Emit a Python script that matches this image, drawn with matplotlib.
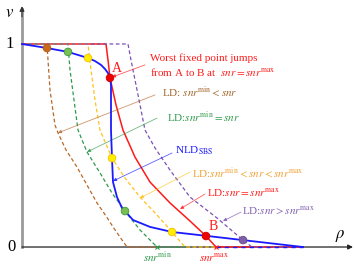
#!/usr/bin/env python3
"""Fixed points of LD and NLD_SBS density evolution curves (v versus rho)."""

import matplotlib

matplotlib.use("Agg")

import matplotlib.pyplot as plt

plt.rcParams["font.family"] = ["Liberation Serif", "DejaVu Serif"]
plt.rcParams["mathtext.fontset"] = "stix"

# curve samples: rho (x) and v (y)
NLD_X = [0, 0.25, 0.46, 0.66, 0.73, 0.79, 0.83, 0.86, 0.88, 0.89, 0.89, 0.90,
         0.91, 0.95, 1.00, 1.03, 1.11, 1.28, 1.50, 1.86, 2.21, 2.81]
NLD_Y = [1, 0.980, 0.961, 0.931, 0.916, 0.897, 0.877, 0.857, 0.833, 0.798,
         0.576, 0.438, 0.320, 0.246, 0.192, 0.177, 0.133, 0.099, 0.074,
         0.054, 0.034, 0]
NLD_AXIS_X = [1.94, 2.81]

LD_MAX_X = [0, 0.84, 0.86, 0.88, 0.94, 1.01, 1.13, 1.28, 1.48, 1.68, 1.84, 1.94, 2.81]
LD_MAX_Y = [1, 1, 0.921, 0.833, 0.700, 0.576, 0.443, 0.320, 0.217, 0.128, 0.054, 0, 0]

LD_BELOW_X = [0, 0.25, 0.26, 0.28, 0.33, 0.36, 0.44, 0.55, 0.65, 0.75, 0.84, 0.91, 0.98, 1.05, 1.35]
LD_BELOW_Y = [1, 1, 0.921, 0.773, 0.601, 0.562, 0.478, 0.394, 0.305, 0.217,
              0.153, 0.099, 0.049, 0, 0]

LD_MIN_X = [0, 0.46, 0.48, 0.52, 0.56, 0.65, 0.78, 0.90, 1.03, 1.18, 1.35, 1.63]
LD_MIN_Y = [1, 1, 0.872, 0.724, 0.576, 0.468, 0.365, 0.266, 0.177, 0.084, 0, 0]

LD_MID_X = [0, 0.66, 0.69, 0.73, 0.78, 0.90, 1.03, 1.18, 1.35, 1.50, 1.63, 1.94]
LD_MID_Y = [1, 1, 0.872, 0.724, 0.576, 0.438, 0.340, 0.246, 0.158, 0.074, 0, 0]

LD_ABOVE_X = [0, 1.06, 1.09, 1.13, 1.18, 1.23, 1.33, 1.48, 1.68, 1.95, 2.21, 2.30, 2.81]
LD_ABOVE_Y = [1, 1, 0.921, 0.823, 0.700, 0.576, 0.488, 0.379, 0.246, 0.143, 0.034, 0, 0]

# fixed points
DOT_X = [0.25, 0.46, 1.03, 0.66, 0.90, 1.50, 0.88, 1.84, 2.21]
DOT_Y = [0.980, 0.961, 0.177, 0.931, 0.438, 0.074, 0.833, 0.054, 0.034]
DOT_FACE = ["#cc6a1c", "#77c054", "#77c054", "#ffee00", "#ffee00", "#ffee00",
            "#ee0000", "#ee0000", "#7e5ea5"]
DOT_EDGE = ["#b05a10", "#3f9a3a", "#3f9a3a", "#f5c000", "#f5c000", "#f5c000",
            "#cc0000", "#cc0000", "#6a4a90"]

SNR_MIN_X = 1.35
SNR_MAX_X = 1.94

BLUE = "#1a1aff"
RED = "#ff1a1a"
BROWN = "#b8692a"
GREEN = "#2e9a4a"
YELLOW = "#ffc21a"
PURPLE = "#7b52b8"
FS = 8


def pointer(ax, text_xy, end_xy, color):
    ax.annotate(
        "", xy=end_xy, xytext=text_xy,
        arrowprops=dict(arrowstyle="-|>", lw=0.6, color=color, alpha=0.7,
                        mutation_scale=5, shrinkA=0, shrinkB=0),
    )


def main() -> None:
    fig = plt.figure(figsize=(3.54, 2.64), dpi=100)
    ax = fig.add_axes([0, 0, 1, 1])
    ax.set_xlim(-0.22, 3.32)
    ax.set_ylim(-0.0837, 1.2167)
    ax.axis("off")

    # axes
    ax.plot([0, 0], [0, 1.17], color="#9a9a9a", lw=2.0, zorder=1)
    ax.annotate("", xy=(0, 1.20), xytext=(0, 1.12),
                arrowprops=dict(arrowstyle="-|>", lw=0.8, color="#333333", mutation_scale=7))
    ax.annotate("", xy=(3.31, 0), xytext=(0, 0),
                arrowprops=dict(arrowstyle="-|>", lw=0.9, color="#222222", mutation_scale=7,
                                shrinkA=0, shrinkB=0), zorder=1)

    ax.plot(LD_MAX_X, LD_MAX_Y, color=RED, lw=1.1, zorder=3)
    ax.plot(NLD_X, NLD_Y, color=BLUE, lw=1.3, zorder=4)
    ax.plot(NLD_AXIS_X, [0, 0], color=BLUE, lw=1.0, ls=(0, (3, 3)), zorder=4)
    ax.plot(LD_BELOW_X, LD_BELOW_Y, color=BROWN, lw=0.9, ls=(0, (3, 2)), zorder=3)
    ax.plot(LD_MIN_X, LD_MIN_Y, color=GREEN, lw=0.9, ls=(0, (3, 2)), zorder=3)
    ax.plot(LD_MID_X, LD_MID_Y, color=YELLOW, lw=0.9, ls=(0, (3, 2)), zorder=3)
    ax.plot(LD_ABOVE_X, LD_ABOVE_Y, color=PURPLE, lw=0.9, ls=(0, (3, 2)), zorder=3)

    ax.scatter(DOT_X, DOT_Y, s=30, c=DOT_FACE, edgecolors=DOT_EDGE, linewidths=0.6, zorder=6)

    ax.plot([SNR_MIN_X], [0], marker="x", color=GREEN, ms=3, mew=0.8, zorder=5)
    ax.plot([SNR_MAX_X], [0], marker="x", color=RED, ms=3, mew=0.8, zorder=5)

    # axis labels
    ax.text(-0.12, 1.153, r"$v$", fontsize=12, ha="center", va="center")
    ax.text(-0.12, 1.0, "1", fontsize=12, ha="center", va="center")
    ax.text(-0.10, 0.0, "0", fontsize=12, ha="center", va="center")
    ax.text(3.18, 0.054, r"$\rho$", fontsize=12, ha="center", va="center")
    ax.text(SNR_MIN_X, -0.052, r"$snr^{\mathrm{min}}$", fontsize=FS, color=GREEN,
            ha="center", va="center")
    ax.text(SNR_MAX_X - 0.02, -0.052, r"$snr^{\mathrm{max}}$", fontsize=FS, color=RED,
            ha="center", va="center")
    ax.text(0.95, 0.877, "A", fontsize=10, color=RED, ha="center", va="center")
    ax.text(1.91, 0.099, "B", fontsize=10, color=RED, ha="center", va="center")

    # callouts
    ax.text(1.28, 0.931, "Worst fixed point jumps", fontsize=FS, color=RED, va="center")
    ax.text(1.28, 0.862, r"from A to B at  $snr = snr^{\mathrm{max}}$", fontsize=FS,
            color=RED, va="center")
    pointer(ax, (1.23, 0.897), (0.90, 0.837), RED)

    ax.text(1.40, 0.764, r"LD: $snr^{\mathrm{min}} < snr$", fontsize=FS, color="#a0652a",
            va="center")
    pointer(ax, (1.33, 0.749), (0.36, 0.562), BROWN)

    ax.text(1.45, 0.640, r"LD:$snr^{\mathrm{min}} = snr$", fontsize=FS, color=GREEN,
            va="center")
    pointer(ax, (1.35, 0.635), (0.65, 0.468), GREEN)

    ax.text(1.53, 0.473, r"NLD$_{\mathrm{SBS}}$", fontsize=FS, color=BLUE, va="center")
    pointer(ax, (1.50, 0.463), (0.91, 0.325), BLUE)

    ax.text(1.70, 0.365, r"LD:$snr^{\mathrm{min}}< snr < snr^{\mathrm{max}}$", fontsize=FS,
            color="#f0a030", va="center")
    pointer(ax, (1.68, 0.369), (1.18, 0.241), YELLOW)

    ax.text(1.85, 0.266, r"LD:$snr = snr^{\mathrm{max}}$", fontsize=FS, color=RED,
            va="center")
    pointer(ax, (1.83, 0.261), (1.58, 0.187), RED)

    ax.text(2.20, 0.177, r"LD:$snr > snr^{\mathrm{max}}$", fontsize=FS, color="#8060b0",
            va="center")
    pointer(ax, (2.19, 0.172), (2.01, 0.128), PURPLE)

    fig.savefig("out.png", dpi=100)
    plt.close(fig)


if __name__ == "__main__":
    main()
